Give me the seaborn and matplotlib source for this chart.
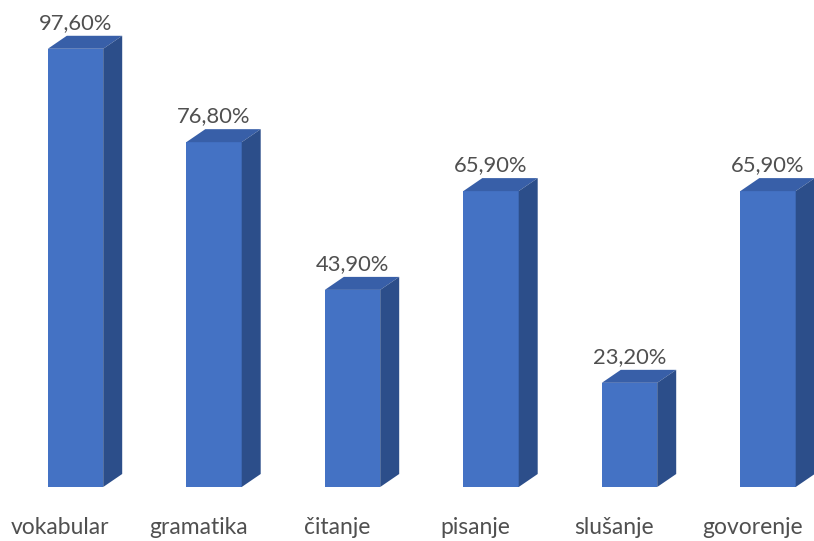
import matplotlib
matplotlib.use("Agg")
import matplotlib.pyplot as plt
from matplotlib.patches import Polygon
import seaborn as sns
import pandas as pd

categories = ["vokabular", "gramatika", "čitanje", "pisanje", "slušanje", "govorenje"]
values = [97.6, 76.8, 43.9, 65.9, 23.2, 65.9]
value_labels = ["97,60%", "76,80%", "43,90%", "65,90%", "23,20%", "65,90%"]

front = "#4472C4"
top_c = "#385FA8"
side_c = "#2C4E8A"
text_c = "#505050"

sns.set_theme(style="white")
plt.rcParams['font.family'] = ['Lato', 'DejaVu Sans']

W, H = 814, 541
fig = plt.figure(figsize=(W / 100, H / 100), dpi=100)
step = 138.5
left_px = 75.5 - step / 2
bottom_px = 54
ax = fig.add_axes([left_px / W, bottom_px / H, 6 * step / W, 449 / H])

df = pd.DataFrame({"cat": categories, "val": values})
bw = 0.4
sns.barplot(data=df, x="cat", y="val", color=front, saturation=1, width=bw,
            linewidth=0, edgecolor="none", ax=ax)
ax.set_xlim(-0.5, 5.5)
ax.set_ylim(0, 100)

dx = 19 / step
dy = 13 / 4.49
for i, v in enumerate(values):
    x0, x1 = i - bw / 2, i + bw / 2
    top = Polygon([(x0, v), (x1, v), (x1 + dx, v + dy), (x0 + dx, v + dy)],
                  closed=True, facecolor=top_c, edgecolor="none", clip_on=False)
    side = Polygon([(x1, 0), (x1 + dx, dy), (x1 + dx, v + dy), (x1, v)],
                   closed=True, facecolor=side_c, edgecolor="none", clip_on=False)
    ax.add_patch(top)
    ax.add_patch(side)
    ax.text(i, v + dy + 0.7, value_labels[i], ha="center", va="bottom",
            fontsize=15.8, color=text_c, clip_on=False)
    ax.text(i - 0.11, -9.0, categories[i], ha="center", va="center",
            fontsize=16.5, color=text_c, clip_on=False)

for s in ax.spines.values():
    s.set_visible(False)
ax.set_xticks([])
ax.set_yticks([])
ax.set_xlabel("")
ax.set_ylabel("")
ax.patch.set_alpha(0)

fig.savefig("out.png", dpi=100)
